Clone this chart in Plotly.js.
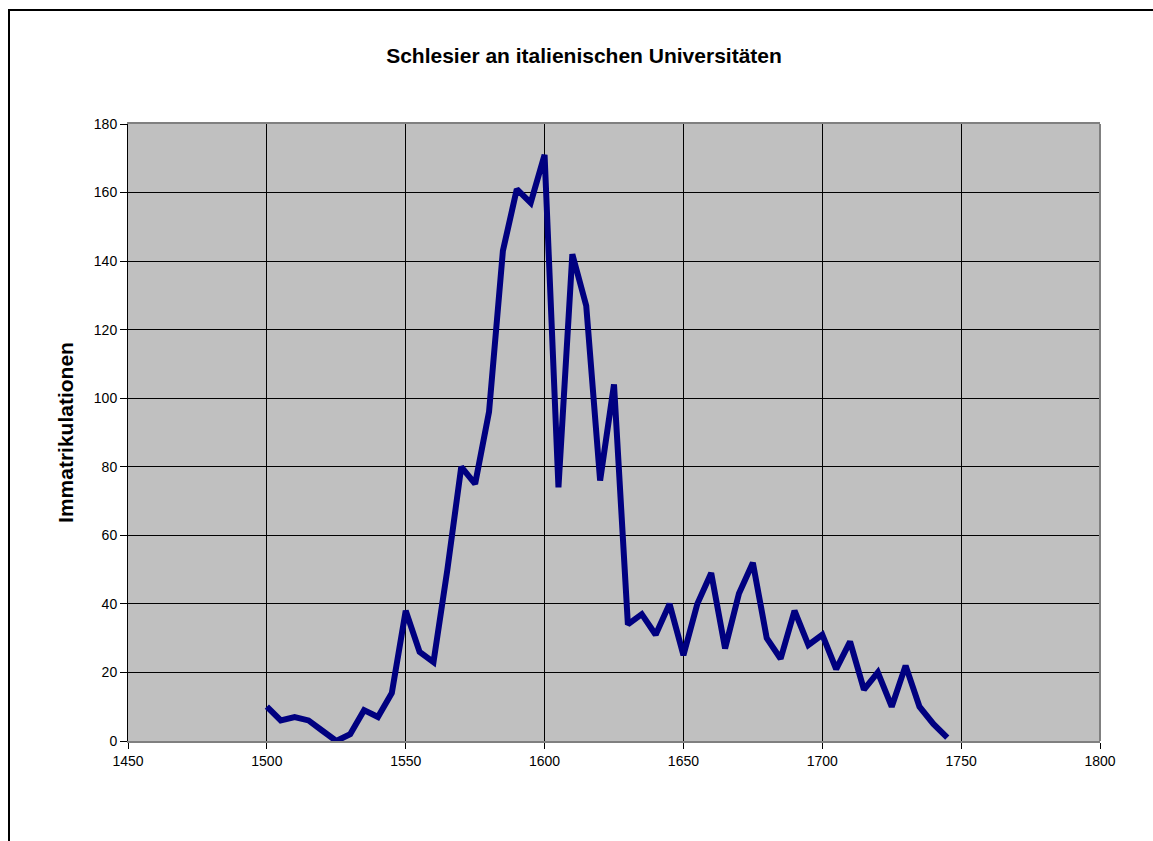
<!DOCTYPE html>
<html>
<head>
<meta charset="utf-8">
<script src="https://cdn.plot.ly/plotly-3.0.1.min.js"></script>
<style>
  html, body { margin: 0; padding: 0; background: #fff; overflow: hidden; }
  #chart { position: absolute; left: 0; top: 0; width: 1153px; height: 841px; }
  #frame {
    position: absolute; left: 8px; top: 9px; width: 1200px; height: 900px;
    border-left: 2px solid #000; border-top: 2px solid #000;
    pointer-events: none;
  }
</style>
</head>
<body>
<div id="chart"></div>
<div id="frame"></div>
<script>
// Immatrikulationen pro 5-Jahres-Abschnitt
const years = [
    1500, 1505, 1510, 1515, 1520, 1525, 1530, 1535, 1540, 1545,
    1550, 1555, 1560, 1565, 1570, 1575, 1580, 1585, 1590, 1595,
    1600, 1605, 1610, 1615, 1620, 1625, 1630, 1635, 1640, 1645,
    1650, 1655, 1660, 1665, 1670, 1675, 1680, 1685, 1690, 1695,
    1700, 1705, 1710, 1715, 1720, 1725, 1730, 1735, 1740, 1745
];
const enrolments = [
    10, 6, 7, 6, 3, 0, 2, 9, 7, 14,
    38, 26, 23, 50, 80, 75, 96, 143, 161, 157,
    171, 74, 142, 127, 76, 104, 34, 37, 31, 40,
    25, 40, 49, 27, 43, 52, 30, 24, 38, 28,
    31, 21, 29, 15, 20, 10, 22, 10, 5, 1
];
const xTicks = [1450, 1500, 1550, 1600, 1650, 1700, 1750, 1800];
const yTicks = [0, 20, 40, 60, 80, 100, 120, 140, 160, 180];

const trace = {
    x: years,
    y: enrolments,
    type: 'scatter',
    mode: 'lines',
    line: { color: '#000080', width: 6 },
    hoverinfo: 'x+y'
};

const layout = {
    width: 1153,
    height: 841,
    showlegend: false,
    paper_bgcolor: 'rgba(0,0,0,0)',
    plot_bgcolor: '#c0c0c0',
    font: { family: 'Liberation Sans, Arial, sans-serif', color: '#000', size: 14 },
    margin: { l: 128, r: 53, t: 124, b: 100 },
    title: {
        text: '<b>Schlesier an italienischen Universitäten</b>',
        font: { size: 21 },
        x: 584 / 1153, xref: 'container', xanchor: 'center',
        y: 1 - 56 / 841, yanchor: 'middle'
    },
    xaxis: {
        range: [1450, 1800],
        tickvals: xTicks,
        ticktext: xTicks.map(String),
        showgrid: true, gridcolor: '#000', gridwidth: 1,
        showline: true, linecolor: '#808080', linewidth: 2, mirror: true,
        ticks: 'outside', ticklen: 6, tickcolor: '#000',
        zeroline: false
    },
    yaxis: {
        range: [0, 180],
        tickvals: yTicks,
        ticktext: yTicks.map(String),
        showgrid: true, gridcolor: '#000', gridwidth: 1,
        showline: true, linecolor: '#000', linewidth: 1,
        ticks: 'outside', ticklen: 7, tickcolor: '#000',
        zeroline: false,
        title: { text: '<b>Immatrikulationen</b>', font: { size: 21 }, standoff: 14 }
    },
    shapes: [{
        type: 'line', xref: 'paper', yref: 'paper',
        x0: 1, x1: 1, y0: 0, y1: 1,
        line: { color: '#808080', width: 2 }
    }]
};

Plotly.newPlot('chart', [trace], layout, { displayModeBar: false, staticPlot: true });
</script>
</body>
</html>
